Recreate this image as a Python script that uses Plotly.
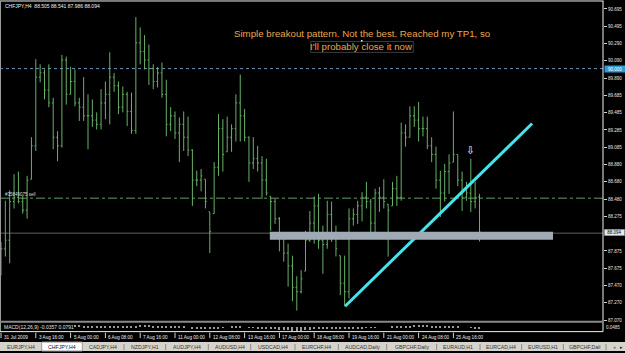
import plotly.graph_objects as go

W, H = 625, 353
def px(x): return x / W
def py(y): return 1 - y / H

# ---------------- data ----------------
symbol = "CHFJPY"
timeframe = "H4"

bar_high = [87.98, 88.46, 88.58, 88.77, 88.80, 88.52, 88.75, 89.20, 90.11, 90.05,
            89.99, 90.05, 89.66, 89.27, 90.16, 90.14, 90.02, 89.99, 89.66, 89.90,
            89.70, 89.64, 89.49, 89.76, 89.85, 90.19, 89.95, 89.85, 89.79, 89.73,
            89.72, 90.60, 90.48, 90.39, 90.28, 90.05, 90.02, 90.07, 89.87, 89.55,
            89.50, 89.43, 89.50, 89.44, 89.06, 88.81, 88.83, 88.71, 88.33, 88.91,
            89.47, 89.41, 89.44, 89.35, 89.70, 89.93, 89.53, 89.21, 89.20, 89.10,
            88.98, 88.95, 88.51, 88.48, 88.27, 88.02, 87.96, 87.82, 87.58, 87.65,
            88.11, 88.34, 88.51, 88.54, 88.17, 88.46, 88.45, 88.17, 87.82, 87.82,
            88.37, 88.37, 88.46, 88.56, 88.68, 88.48, 88.60, 88.62, 88.71, 88.42,
            88.68, 88.75, 89.37, 89.35, 89.56, 89.56, 89.61, 89.44, 89.44, 89.20,
            89.09, 88.81, 88.89, 89.00, 89.50, 89.00, 88.80, 88.68, 88.95, 88.68,
            88.541]
bar_low = [87.59, 87.81, 87.73, 88.37, 88.43, 88.31, 88.25, 88.71, 89.04, 89.84,
           89.64, 89.55, 89.06, 88.92, 89.08, 89.58, 89.70, 89.56, 89.39, 89.39,
           89.06, 89.32, 89.29, 89.29, 89.41, 89.35, 89.73, 89.47, 89.49, 89.33,
           89.24, 89.24, 90.05, 89.99, 89.81, 89.76, 89.78, 89.66, 89.21, 89.27,
           89.18, 88.91, 89.04, 88.98, 88.40, 88.63, 88.57, 88.37, 87.85, 88.31,
           88.75, 88.80, 89.03, 89.03, 89.15, 89.15, 89.15, 88.68, 88.83, 88.80,
           88.48, 88.52, 88.11, 88.19, 87.87, 87.75, 87.46, 87.29, 87.18, 87.38,
           87.64, 87.98, 87.96, 87.90, 87.61, 87.90, 87.98, 87.81, 87.36, 87.23,
           87.32, 88.17, 88.19, 88.22, 88.37, 88.02, 88.02, 88.33, 88.37, 87.81,
           88.40, 88.40, 88.46, 89.09, 89.20, 89.32, 89.15, 89.21, 89.06, 88.91,
           88.60, 88.27, 88.45, 88.54, 88.91, 88.63, 88.34, 88.46, 88.33, 88.37,
           87.986]
bar_close = [87.90, 88.00, 88.45, 88.50, 88.45, 88.35, 88.70, 89.10, 89.90, 89.95,
             89.75, 89.60, 89.20, 89.10, 90.10, 89.70, 89.85, 89.60, 89.55, 89.45,
             89.45, 89.40, 89.35, 89.60, 89.70, 89.90, 89.80, 89.55, 89.70, 89.50,
             89.28, 90.30, 90.20, 90.10, 90.00, 89.85, 89.95, 89.70, 89.35, 89.45,
             89.25, 89.35, 89.20, 89.05, 88.70, 88.70, 88.75, 88.45, 88.10, 88.85,
             89.30, 89.00, 89.20, 89.30, 89.60, 89.45, 89.20, 88.90, 88.95, 88.90,
             88.70, 88.55, 88.45, 88.25, 88.05, 87.85, 87.70, 87.45, 87.40, 87.55,
             88.00, 88.20, 88.40, 88.00, 87.95, 88.30, 88.05, 87.90, 87.50, 87.40,
             88.25, 88.30, 88.40, 88.50, 88.45, 88.20, 88.55, 88.50, 88.45, 88.35,
             88.60, 88.50, 89.25, 89.20, 89.45, 89.40, 89.30, 89.30, 89.10, 89.00,
             88.70, 88.55, 88.80, 88.90, 89.00, 88.70, 88.50, 88.55, 88.45, 88.50,
             88.094]
first_open = 87.70
last_open = 88.505

macd_hist = [0, 0, 0, 0, 0, 0, 0, 0, 0, 0,
             0, 0, 0, 0, 0, 0, 0, 0.05, 0.05, 0.04,
             0.04, 0.03, 0.03, 0.03, 0.03, 0.04, 0.04, 0.03, 0.03, 0.03,
             0.02, 0.04, 0.05, 0.05, 0.05, 0.04, 0.04, 0.04, 0.03, 0.02,
             0.02, 0.01, 0.01, 0.0, -0.02, -0.03, -0.03, -0.04, -0.05, -0.04,
             -0.02, -0.01, 0.0, 0.01, 0.01, 0.01, 0.0, -0.01, -0.01, -0.02,
             -0.03, -0.03, -0.04, -0.05, -0.06, -0.06, -0.07, -0.08, -0.08, -0.08,
             -0.07, -0.06, -0.05, -0.05, -0.05, -0.04, -0.04, -0.04, -0.05, -0.05,
             -0.04, -0.03, -0.02, -0.02, -0.01, -0.01, -0.01, 0.0, 0.0, 0.0,
             0.01, 0.01, 0.02, 0.03, 0.04, 0.05, 0.05, 0.05, 0.05, 0.04,
             0.03, 0.02, 0.02, 0.02, 0.02, 0.01, 0.0, 0.0, -0.01, -0.02,
             -0.0357]
macd_label = "MACD(12,26,9) -0.0357 0.0791"
macd_scale_label = "0.0485"

date_tick_idx = [0, 8, 16, 24, 32, 40, 48, 56, 64, 72, 80, 88, 96, 104]
date_tick_text = ["31 Jul 2009", "3 Aug 16:00", "5 Aug 00:00", "6 Aug 08:00",
                  "7 Aug 16:00", "11 Aug 00:00", "12 Aug 08:00", "13 Aug 16:00",
                  "17 Aug 00:00", "18 Aug 08:00", "19 Aug 16:00", "21 Aug 00:00",
                  "24 Aug 08:00", "25 Aug 16:00"]
price_ticks = [90.695, 90.495, 90.290, 90.090, 89.890, 89.685, 89.485, 89.285,
               89.085, 88.880, 88.680, 88.480, 88.275, 87.875, 87.675, 87.470,
               87.270, 87.070]

level_price = 90.000
order_price = 88.49
order_label = "#35849075 sell"
band_idx = [61.8, 126.9]
band_price = [88.005, 88.10]
trend_idx = [79.1, 122.1]
trend_price = [87.23, 89.36]
arrow_idx, arrow_price = 108, 89.05
note_lines = ["Simple breakout pattern. Not the best. Reached my TP1, so",
              "I'll probably close it now"]
note_idx = 82.98
tab_names = ["EURJPY,H4", "CHFJPY,H4", "CADJPY,H4", "NZDJPY,H1", "AUDJPY,H4",
             "AUDUSD,H4", "USDCAD,H4", "EURCHF,H4", "AUDCAD,Daily", "GBPCHF,Daily",
             "EURAUD,H1", "EURCAD,H4", "EURUSD,H1", "GBPCHF,Dail"]

# ---------------- derived ----------------
n = len(bar_close)
idx = list(range(n))
bar_open = [first_open]
for i in range(1, n):
    o = min(max(bar_close[i - 1], bar_low[i]), bar_high[i])
    bar_open.append(o)
bar_open[-1] = last_open

# layout geometry (pixels)
PLOT_R = 603
MAIN_TOP, MAIN_BOT = 2, 322.5
MACD_TOP, MACD_BOT = 324.5, 333
PX_PER_BAR = 4.35
X0 = 1
xr = [(0 - X0) / PX_PER_BAR, (PLOT_R - X0) / PX_PER_BAR]
PX_PER_PRICE = 86.3
P_TOP = 90.695 + (9 - MAIN_TOP) / PX_PER_PRICE
yr = [P_TOP - (MAIN_BOT - MAIN_TOP) / PX_PER_PRICE, P_TOP]

FONT = "Liberation Sans"
AX_COL = "#e6e6e6"
BAR_COL = "#68b068"

fig = go.Figure()
fig.add_trace(go.Ohlc(x=idx, open=bar_open, high=bar_high, low=bar_low, close=bar_close,
                      increasing=dict(line=dict(color=BAR_COL, width=1)),
                      decreasing=dict(line=dict(color=BAR_COL, width=1)),
                      tickwidth=0.3, hoverinfo="skip", showlegend=False,
                      xaxis="x", yaxis="y"))
fig.add_trace(go.Bar(x=idx, y=macd_hist, marker=dict(color="#9a9a9a", line=dict(width=0)),
                     width=0.25, showlegend=False, xaxis="x2", yaxis="y2", hoverinfo="skip"))
# trend line
fig.add_trace(go.Scatter(x=trend_idx, y=trend_price, mode="lines",
                         line=dict(color="#45e3ea", width=3), showlegend=False,
                         xaxis="x", yaxis="y", hoverinfo="skip"))

shapes = []
shapes.append(dict(type="line", xref="paper", yref="y", x0=0, x1=px(PLOT_R), y0=level_price, y1=level_price,
                   line=dict(color="#6f93b8", width=1, dash="dot"), layer="below"))
shapes.append(dict(type="line", xref="paper", yref="y", x0=0, x1=px(PLOT_R), y0=order_price, y1=order_price,
                   line=dict(color="#5f9f5f", width=1, dash="dashdot"), layer="below"))
shapes.append(dict(type="line", xref="paper", yref="y", x0=0, x1=px(PLOT_R), y0=bar_close[-1] - 0.012,
                   y1=bar_close[-1] - 0.012, line=dict(color="#5e5e5e", width=1), layer="below"))
shapes.append(dict(type="rect", xref="x", yref="y", x0=band_idx[0], x1=band_idx[1],
                   y0=band_price[0], y1=band_price[1], fillcolor="#a0aab4",
                   line=dict(width=0), layer="above"))
# frame lines
shapes.append(dict(type="line", xref="paper", yref="paper", x0=0, x1=px(PLOT_R + 0.5), y0=py(1), y1=py(1),
                   line=dict(color="#f0f0f0", width=1)))
shapes.append(dict(type="line", xref="paper", yref="paper", x0=px(0.5), x1=px(0.5), y0=py(1), y1=py(333.5),
                   line=dict(color="#9a9a9a", width=1)))
shapes.append(dict(type="line", xref="paper", yref="paper", x0=px(PLOT_R), x1=px(PLOT_R), y0=py(1), y1=py(333.5),
                   line=dict(color="#f0f0f0", width=1)))
shapes.append(dict(type="rect", xref="paper", yref="paper", x0=0, x1=px(PLOT_R), y0=py(324.5), y1=py(322.5),
                   fillcolor="#8a8a8a", line=dict(width=0)))
shapes.append(dict(type="line", xref="paper", yref="paper", x0=0, x1=px(PLOT_R), y0=py(333.5), y1=py(333.5),
                   line=dict(color="#f0f0f0", width=1)))
shapes.append(dict(type="rect", xref="paper", yref="paper", x0=px(310.7), x1=px(413.3), y0=py(52.7), y1=py(41.7),
                   line=dict(color="#3c3c3c", width=1)))
shapes.append(dict(type="rect", xref="paper", yref="paper", x0=px(361), x1=px(362.5), y0=py(41.8), y1=py(40.3),
                   fillcolor="#ffffff", line=dict(width=0)))
for t in date_tick_idx:
    shapes.append(dict(type="line", xref="x2", yref="paper", x0=t, x1=t, y0=py(334.5), y1=py(340),
                       line=dict(color="#d0d0d0", width=1)))
shapes.append(dict(type="rect", xref="paper", yref="paper", x0=0, x1=1, y0=0, y1=py(344),
                   fillcolor="#d6d3cc", line=dict(width=0)))
tab_edges = [0, 41.7, 82.3, 124, 165.7, 208.3, 250.7, 295, 338.3, 386.7, 436.7, 480, 521.7, 563.3, 606]
shapes.append(dict(type="rect", xref="paper", yref="paper", x0=px(41.7), x1=px(82.3), y0=0, y1=py(344),
                   fillcolor="#ffffff", line=dict(color="#9a9a9a", width=1)))
for e in tab_edges[3:]:
    shapes.append(dict(type="line", xref="paper", yref="paper", x0=px(e), x1=px(e), y0=py(352), y1=py(346),
                       line=dict(color="#8a8a8a", width=1)))

ann = []
def text(x, y, s, size, color, xanchor="left", font=FONT, **kw):
    d = dict(xref="paper", yref="paper", x=px(x), y=py(y), text=s, showarrow=False,
             xanchor=xanchor, yanchor="middle", font=dict(family=font, size=size, color=color))
    d.update(kw)
    ann.append(d)

hdr = f"{symbol},{timeframe}&nbsp;&nbsp;{last_open:.3f} {bar_high[-1]:.3f} {bar_low[-1]:.3f} {bar_close[-1]:.3f}"
text(2.5, 6, hdr, 5, "#f0f0f0")
for line_txt, yy in zip(note_lines, [33.3, 46.7]):
    ann.append(dict(xref="x", yref="paper", x=note_idx, y=py(yy), text=line_txt, showarrow=False,
                    xanchor="center", yanchor="middle", font=dict(family=FONT, size=9.7, color="#eaa64c")))
ann.append(dict(xref="paper", yref="y", x=px(2.5), y=order_price, yshift=3.5, text=order_label,
                showarrow=False, xanchor="left", yanchor="middle", font=dict(family=FONT, size=4.5, color="#dcdcdc")))
ann.append(dict(xref="x", yref="y", x=arrow_idx, y=arrow_price, text="⇩", showarrow=False,
                xanchor="center", yanchor="middle", font=dict(family="DejaVu Sans", size=10.5, color="#ffffff")))
ann.append(dict(xref="paper", yref="y", x=px(603.5), y=level_price, text=f"{level_price:.3f}", showarrow=False,
                xanchor="left", yanchor="middle", font=dict(family=FONT, size=4.5, color="#ffffff"),
                bgcolor="#2f9ad6", borderpad=0.6, width=19))
ann.append(dict(xref="paper", yref="y", x=px(603.5), y=bar_close[-1], text=f"{bar_close[-1]:.3f}", showarrow=False,
                xanchor="left", yanchor="middle", font=dict(family=FONT, size=4.5, color="#000000"),
                bgcolor="#e8e8e8", bordercolor="#707070", borderwidth=0.5, borderpad=0.4, width=19))
text(2, 328.8, macd_label, 5, "#e0e0e0")
text(604, 329.5, macd_scale_label, 4.5, "#e0e0e0")
for t, s in zip(date_tick_idx, date_tick_text):
    ann.append(dict(xref="x2", yref="paper", x=t, y=py(339.3), text=s, showarrow=False, xshift=1,
                    xanchor="left", yanchor="middle", font=dict(family=FONT, size=4.6, color="#ececec")))
for i, name in enumerate(tab_names):
    cx = (tab_edges[i] + tab_edges[i + 1]) / 2
    text(cx, 348.7, name, 5.2, "#333333" if i != 1 else "#111111", xanchor="center")
text(614.5, 348.7, "◂", 5, "#777777", xanchor="center", font="DejaVu Sans")
text(621, 348.7, "▸", 5, "#222222", xanchor="center", font="DejaVu Sans")

fig.update_layout(
    width=W, height=H, margin=dict(l=0, r=0, t=0, b=0),
    paper_bgcolor="#000000", plot_bgcolor="#000000", showlegend=False,
    xaxis=dict(domain=[0, px(PLOT_R)], range=xr, visible=False, rangeslider=dict(visible=False),
               anchor="y", fixedrange=True),
    yaxis=dict(domain=[py(MAIN_BOT), py(MAIN_TOP)], range=yr, side="right", anchor="x",
               tickvals=price_ticks, ticktext=[f"{v:.3f}" for v in price_ticks],
               ticks="outside", ticklen=3, tickcolor="#d0d0d0", showgrid=False, zeroline=False,
               showline=False, tickfont=dict(family=FONT, size=4.5, color=AX_COL)),
    xaxis2=dict(domain=[0, px(PLOT_R)], range=xr, visible=False, anchor="y2"),
    yaxis2=dict(domain=[py(MACD_BOT), py(MACD_TOP)], range=[-0.1, 0.1], visible=False, anchor="x2"),
    shapes=shapes, annotations=ann, bargap=0,
)
fig.write_html("out.html")
